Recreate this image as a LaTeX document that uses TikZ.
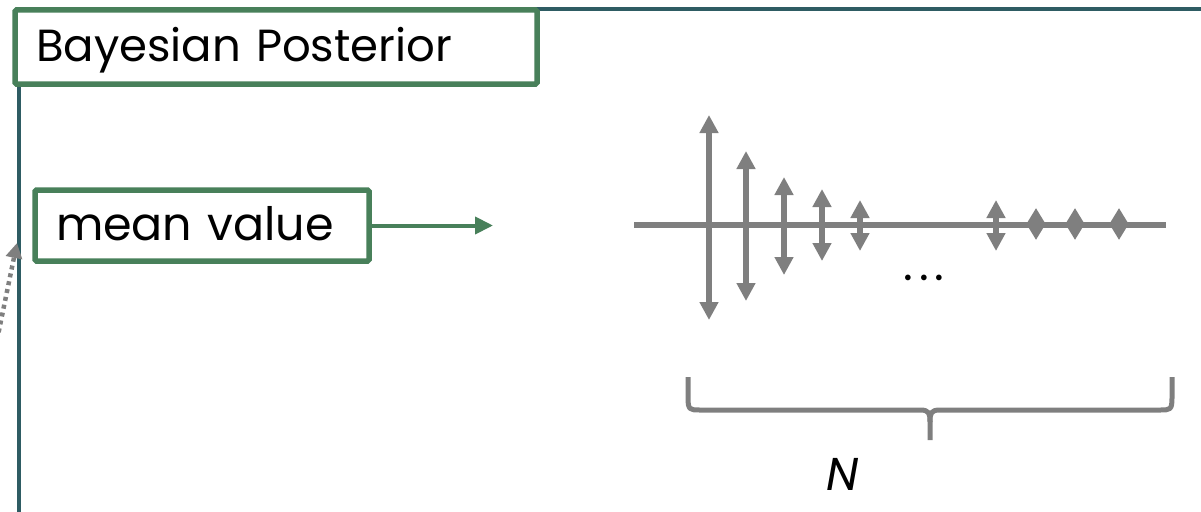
\documentclass[tikz,border=0pt]{standalone}
\usepackage{fontspec}
\setmainfont{Poppins}
\usetikzlibrary{arrows.meta}
\definecolor{frameteal}{RGB}{46,92,99}
\definecolor{boxgreen}{RGB}{72,128,90}
\definecolor{arrgray}{RGB}{127,127,127}
\tikzset{
  framestyle/.style={draw=frameteal, line width=3.5pt},
  greenbox/.style={draw=boxgreen, line width=5.5pt, fill=white, rounded corners=1.5pt,
    anchor=north west, align=left, inner xsep=21pt, inner ysep=0pt, outer sep=0pt,
    text height=34pt, text depth=6pt},
  greenarrow/.style={draw=boxgreen, line width=4pt, -{Triangle[length=18pt,width=17pt]}},
  dotarrow/.style={draw=arrgray, line width=4.5pt, dash pattern=on 4pt off 4pt,
    -{Triangle[length=15pt,width=16pt]}},
  axisline/.style={draw=arrgray, line width=5.5pt},
  sizearrow/.style={draw=arrgray, line width=5.5pt,
    {Triangle[length=18pt,width=18pt]}-{Triangle[length=18pt,width=18pt]}},
  tinyarrow/.style={draw=arrgray, line width=5.5pt,
    {Triangle[length=16pt,width=18pt]}-{Triangle[length=16pt,width=18pt]}},
  bracestyle/.style={draw=arrgray, line width=5pt, line cap=butt, line join=round},
  labeltext/.style={font=\fontsize{46}{50}\selectfont, inner sep=0pt}
}
\begin{document}
\begin{tikzpicture}[x=1pt,y=-1pt]
\useasboundingbox (0,0) rectangle (1201,511);
\clip (0,0) rectangle (1201,511);
% outer frame
\draw[framestyle] (19,9) rectangle (1240,560);
% title box
\node[greenbox, minimum width=522pt, minimum height=74pt, text width=480pt,
  font=\fontsize{45}{50}\selectfont] (title) at (15,10) {Bayesian Posterior};
% mean value box
\node[greenbox, minimum width=334pt, minimum height=71pt, text width=292pt,
  text height=35pt, text depth=6pt, font=\fontsize{46}{50}\selectfont] (mean) at (35,190) {mean value};
\coordinate (meanTip) at (493,225.5);
\draw[greenarrow] (mean.east) -- (mean.east -| meanTip);
% dotted arrow from outside
\coordinate (dotStart) at (-3,340);
\coordinate (dotTip) at (17,243);
\draw[dotarrow] (dotStart) -- (dotTip);
% axis
\coordinate (axL) at (634,225);
\coordinate (axR) at (1166,225);
\draw[axisline] (axL) -- (axR);
% variance arrows
\coordinate (a1t) at (709,115); \coordinate (a1b) at (709,320);
\coordinate (a2t) at (746,151); \coordinate (a2b) at (746,301);
\coordinate (a3t) at (784,177); \coordinate (a3b) at (784,275);
\coordinate (a4t) at (822,189); \coordinate (a4b) at (822,261);
\coordinate (a5t) at (860,200); \coordinate (a5b) at (860,251);
\coordinate (a6t) at (996,200); \coordinate (a6b) at (996,251);
\coordinate (a7t) at (1036,208); \coordinate (a7b) at (1036,240);
\coordinate (a8t) at (1075,208); \coordinate (a8b) at (1075,240);
\coordinate (a9t) at (1119,208); \coordinate (a9b) at (1119,240);
\foreach \i in {1,...,6} {\draw[sizearrow] (a\i t) -- (a\i b);}
\foreach \i in {7,8,9} {\draw[tinyarrow] (a\i t) -- (a\i b);}
\node[labeltext, anchor=base] (dots) at (924,280) {.\kern6pt.\kern6pt.};
% brace
\coordinate (brL) at (688,377);
\coordinate (brR) at (1172,377);
\coordinate (brM) at (930,440);
\draw[bracestyle] (brL) -- (688,398) .. controls (688,410) and (690,410) .. (700,410)
  -- (920,410) .. controls (929,410) and (930,413) .. (930,422) -- (brM);
\draw[bracestyle] (brR) -- (1172,398) .. controls (1172,410) and (1170,410) .. (1160,410)
  -- (940,410) .. controls (931,410) and (930,413) .. (930,422);
\node[labeltext, anchor=base, font=\fontsize{46}{50}\selectfont\itshape] (Nlabel) at (843,490) {N};
\end{tikzpicture}
\end{document}
